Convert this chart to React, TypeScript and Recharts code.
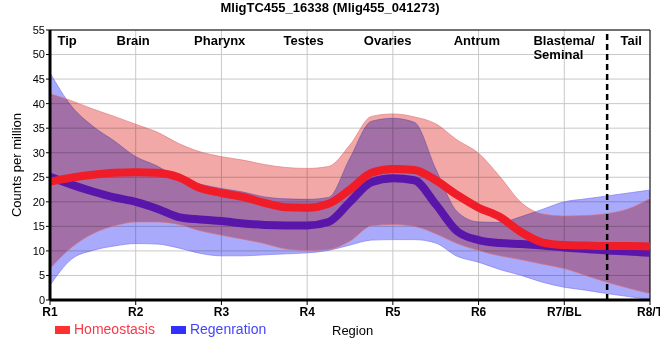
import React from 'react';
import {
  ComposedChart,
  Area,
  Line,
  XAxis,
  YAxis,
  CartesianGrid,
  ReferenceLine,
  ReferenceDot,
  ReferenceArea,
} from 'recharts';

const regionTicks = ['R1', 'R2', 'R3', 'R4', 'R5', 'R6', 'R7/BL', 'R8/T'];
const tickPositions = [0, 1, 2, 3, 4, 5, 6, 7];
const yTicks = [0, 5, 10, 15, 20, 25, 30, 35, 40, 45, 50, 55];

const samplePositions = [
  0, 0.25, 0.5, 0.75, 1, 1.25, 1.5, 1.75, 2, 2.25, 2.5, 2.75, 3, 3.25, 3.5, 3.75,
  4, 4.25, 4.5, 4.75, 5, 5.25, 5.5, 5.75, 6, 6.25, 6.5, 6.75, 7,
];

const homeoMean = [
  24.1, 24.9, 25.5, 25.9, 26.0, 25.9, 25.0, 22.8, 21.8, 21.0, 19.8, 18.9, 18.8, 19.6, 22.5, 25.9,
  26.7, 26.5, 24.4, 21.4, 18.8, 16.9, 13.8, 11.7, 11.2, 11.1, 11.0, 11.0, 10.9,
];
const homeoHigh = [
  42.0, 40.6, 38.9, 37.4, 35.8, 34.2, 31.9, 30.2, 29.2, 28.5, 27.6, 27.0, 26.8, 27.2, 31.6, 37.4,
  37.9, 37.3, 35.9, 32.6, 29.9, 25.1, 19.8, 17.5, 17.1, 17.2, 17.6, 18.6, 20.7,
];
const homeoLow = [
  6.4, 10.7, 13.5, 15.1, 15.9, 15.9, 15.4, 14.1, 13.2, 12.4, 11.5, 10.4, 10.1, 10.3, 12.0, 15.1,
  15.4, 15.0, 13.5, 11.5, 10.1, 9.0, 8.2, 7.3, 6.4, 5.0, 3.6, 2.4, 1.3,
];

const regenMean = [
  25.1, 23.5, 22.1, 20.9, 20.0, 18.6, 16.9, 16.4, 16.1, 15.6, 15.3, 15.2, 15.2, 15.9, 20.0, 24.0,
  24.8, 24.4, 19.5, 14.0, 12.2, 11.6, 11.4, 11.1, 10.7, 10.4, 10.1, 9.9, 9.6,
];
const regenHigh = [
  46.3, 39.5, 35.4, 32.4, 29.2, 27.3, 24.7, 23.6, 22.7, 22.0, 21.0, 20.6, 20.5, 20.9, 28.9, 36.4,
  37.0, 36.2, 26.7, 18.0, 15.9, 15.8, 17.0, 18.5, 20.0, 20.6, 21.2, 21.8, 22.4,
];
const regenLow = [
  3.0, 8.3, 10.1, 11.0, 11.5, 11.4, 10.6, 9.5, 9.0, 9.0, 9.2, 9.4, 9.6, 10.1, 11.2, 12.2,
  12.3, 12.3, 11.6, 8.9, 7.7, 6.2, 5.0, 3.6, 2.6, 2.0, 1.3, 0.7, 0.1,
];

const regionNames = [
  { lines: ['Tip'], at: 0.2, anchor: 'middle' },
  { lines: ['Brain'], at: 0.97, anchor: 'middle' },
  { lines: ['Pharynx'], at: 1.98, anchor: 'middle' },
  { lines: ['Testes'], at: 2.96, anchor: 'middle' },
  { lines: ['Ovaries'], at: 3.94, anchor: 'middle' },
  { lines: ['Antrum'], at: 4.98, anchor: 'middle' },
  { lines: ['Blastema/', 'Seminal'], at: 5.64, anchor: 'start' },
  { lines: ['Tail'], at: 6.78, anchor: 'middle' },
];
const tailBoundary = 6.5;

const data = samplePositions.map((x, i) => ({
  x,
  hMean: homeoMean[i],
  hRange: [homeoLow[i], homeoHigh[i]],
  rMean: regenMean[i],
  rRange: [regenLow[i], regenHigh[i]],
}));

const FONT = '"Liberation Sans", Arial, sans-serif';

const RegionLabel = (props: any) => {
  const { viewBox, lines, anchor } = props;
  if (!viewBox) return null;
  const x = viewBox.x + (viewBox.width || 0) / 2;
  const y = viewBox.y + (viewBox.height || 0) / 2;
  return (
    <text
      x={x}
      y={y + 15}
      textAnchor={anchor}
      fontFamily={FONT}
      fontSize={13}
      fontWeight="bold"
      fill="#000"
    >
      {lines.map((l: string, i: number) => (
        <tspan key={i} x={x} dy={i === 0 ? 0 : 14}>
          {l}
        </tspan>
      ))}
    </text>
  );
};

export default function App() {
  return (
    <div
      style={{
        position: 'absolute',
        left: 0,
        top: 0,
        width: 660,
        height: 360,
        background: '#fff',
        fontFamily: FONT,
      }}
    >
      <style>{`.band .recharts-area-area { mix-blend-mode: multiply; }`}</style>
      <div
        style={{
          position: 'absolute',
          left: 0,
          top: 0,
          width: 660,
          textAlign: 'center',
          fontSize: 13,
          fontWeight: 'bold',
          lineHeight: '16px',
          color: '#000',
        }}
      >
        MligTC455_16338 (Mlig455_041273)
      </div>
      <ComposedChart
        width={660}
        height={360}
        data={data}
        margin={{ top: 30, right: 10, left: 0, bottom: 30 }}
      >
        <CartesianGrid stroke="#c8c8c8" strokeWidth={1} />
        <XAxis
          dataKey="x"
          type="number"
          domain={[0, 7]}
          ticks={tickPositions}
          tickFormatter={(v: number) => regionTicks[v]}
          interval={0}
          height={30}
          axisLine={{ stroke: '#000', strokeWidth: 3 }}
          tickLine={{ stroke: '#000' }}
          tickSize={5}
          tick={{ fill: '#000', fontSize: 12, fontWeight: 'bold', fontFamily: FONT }}
        />
        <YAxis
          type="number"
          domain={[0, 55]}
          ticks={yTicks}
          interval={0}
          width={50}
          axisLine={{ stroke: '#000', strokeWidth: 3 }}
          tickLine={{ stroke: '#000' }}
          tickSize={4}
          tickMargin={1}
          tick={{ fill: '#000', fontSize: 11, fontFamily: FONT }}
          label={{
            value: 'Counts per million',
            angle: -90,
            position: 'insideLeft',
            offset: 16,
            style: { textAnchor: 'middle', fontSize: 13, fill: '#000', fontFamily: FONT },
          }}
        />
        <ReferenceArea x1={0} x2={7} y1={0} y2={55} fill="none" stroke="#000" strokeWidth={1} />
        <Area
          className="band"
          dataKey="rRange"
          type="monotone"
          fill="#aaaafc"
          fillOpacity={1}
          stroke="#7070f0"
          strokeWidth={1}
          strokeOpacity={0.6}
          isAnimationActive={false}
          activeDot={false}
        />
        <Area
          className="band"
          dataKey="hRange"
          type="monotone"
          fill="#f3a8a8"
          fillOpacity={1}
          stroke="#e07070"
          strokeWidth={1}
          strokeOpacity={0.6}
          isAnimationActive={false}
          activeDot={false}
        />
        <Line
          dataKey="rMean"
          type="monotone"
          stroke="#5a16aa"
          strokeWidth={8}
          dot={false}
          activeDot={false}
          isAnimationActive={false}
        />
        <Line
          dataKey="hMean"
          type="monotone"
          stroke="#f01c28"
          strokeWidth={8}
          dot={false}
          activeDot={false}
          isAnimationActive={false}
        />
        <ReferenceLine
          x={tailBoundary}
          stroke="#000"
          strokeWidth={2.5}
          strokeDasharray="6 4"
        />
        {regionNames.map((r) => (
          <ReferenceDot
            key={r.lines.join('')}
            x={r.at}
            y={55}
            r={0}
            fill="none"
            stroke="none"
            label={<RegionLabel lines={r.lines} anchor={r.anchor} />}
          />
        ))}
      </ComposedChart>
      <div
        style={{
          position: 'absolute',
          left: 55,
          top: 321,
          display: 'flex',
          alignItems: 'center',
          fontSize: 14,
          lineHeight: '17px',
        }}
      >
        <span style={{ display: 'inline-block', width: 15, height: 8, background: '#ff3030', marginRight: 4 }} />
        <span style={{ color: '#f83848' }}>Homeostasis</span>
        <span
          style={{ display: 'inline-block', width: 15, height: 8, background: '#3030ff', marginLeft: 16, marginRight: 4 }}
        />
        <span style={{ color: '#4444ff' }}>Regenration</span>
      </div>
      <div
        style={{
          position: 'absolute',
          left: 332,
          top: 323,
          fontSize: 13,
          lineHeight: '15px',
          color: '#000',
        }}
      >
        Region
      </div>
    </div>
  );
}
